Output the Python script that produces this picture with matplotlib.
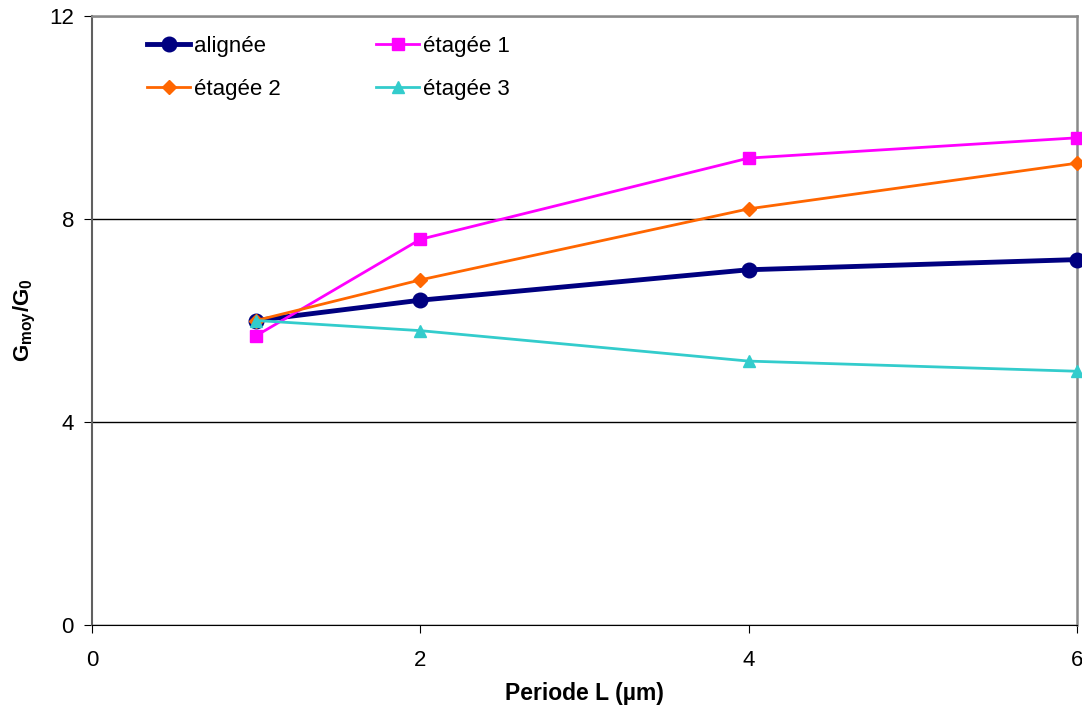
import matplotlib
matplotlib.use("Agg")
import matplotlib.pyplot as plt

plt.rcParams['font.family'] = ['Liberation Sans', 'DejaVu Sans']
plt.rcParams['mathtext.fontset'] = 'custom'
plt.rcParams['mathtext.rm'] = 'Liberation Sans'
plt.rcParams['mathtext.bf'] = 'Liberation Sans:bold'

x = [1, 2, 4, 6]
alignee = [6.0, 6.4, 7.0, 7.2]
etagee1 = [5.7, 7.6, 9.2, 9.6]
etagee2 = [6.0, 6.8, 8.2, 9.1]
etagee3 = [6.0, 5.8, 5.2, 5.0]

xticks = [0, 2, 4, 6]
yticks = [0, 4, 8, 12]

fig = plt.figure(figsize=(10.82, 7.13), dpi=100)
ax = fig.add_axes([92/1082, 1-625/713, (1077-92)/1082, (625-16)/713])

l0, = ax.plot(x, alignee, color='#000080', lw=3.5, marker='o', ms=10.5, label='alignée', clip_on=False, zorder=3)
l1, = ax.plot(x, etagee1, color='#FF00FF', lw=2, marker='s', ms=8.5, label='étagée 1', clip_on=False, zorder=4)
l2, = ax.plot(x, etagee2, color='#FF6600', lw=2, marker='D', ms=7, label='étagée 2', clip_on=False, zorder=5)
l3, = ax.plot(x, etagee3, color='#33CCCC', lw=2, marker='^', ms=9, label='étagée 3', clip_on=False, zorder=6)

ax.set_xlim(0, 6)
ax.set_ylim(0, 12)
ax.set_xticks(xticks)
ax.set_yticks(yticks)
ax.tick_params(labelsize=16, direction='out', length=6, color='black')
ax.tick_params(axis='x', pad=12)
ax.tick_params(axis='y', pad=7)
ax.yaxis.grid(True, color='black', lw=1)
ax.set_axisbelow(True)
ax.spines['bottom'].set_color('black')
ax.spines['left'].set_color('#606060')
ax.spines['left'].set_linewidth(1.5)
for s in ['right', 'top']:
    ax.spines[s].set_color('#8a8a8a')
    ax.spines[s].set_linewidth(1.8)

ax.set_xlabel('Periode L (µm)', fontsize=16.5, fontweight='bold', labelpad=8)
ax.set_ylabel('G$_{\\mathbf{moy}}$/G$_{\\mathbf{0}}$', fontsize=16, fontweight='bold')
ax.yaxis.set_label_coords(-0.055, 0.5)

leg = ax.legend([l0, l2, l1, l3], ['alignée', 'étagée 2', 'étagée 1', 'étagée 3'],
                loc='upper left', ncol=2, frameon=False, fontsize=16,
                bbox_to_anchor=(0.0468, 0.982), columnspacing=4.3, handlelength=1.95,
                handletextpad=0.15, labelspacing=1.0, borderaxespad=0.0)

fig.savefig('out.png', dpi=100)
